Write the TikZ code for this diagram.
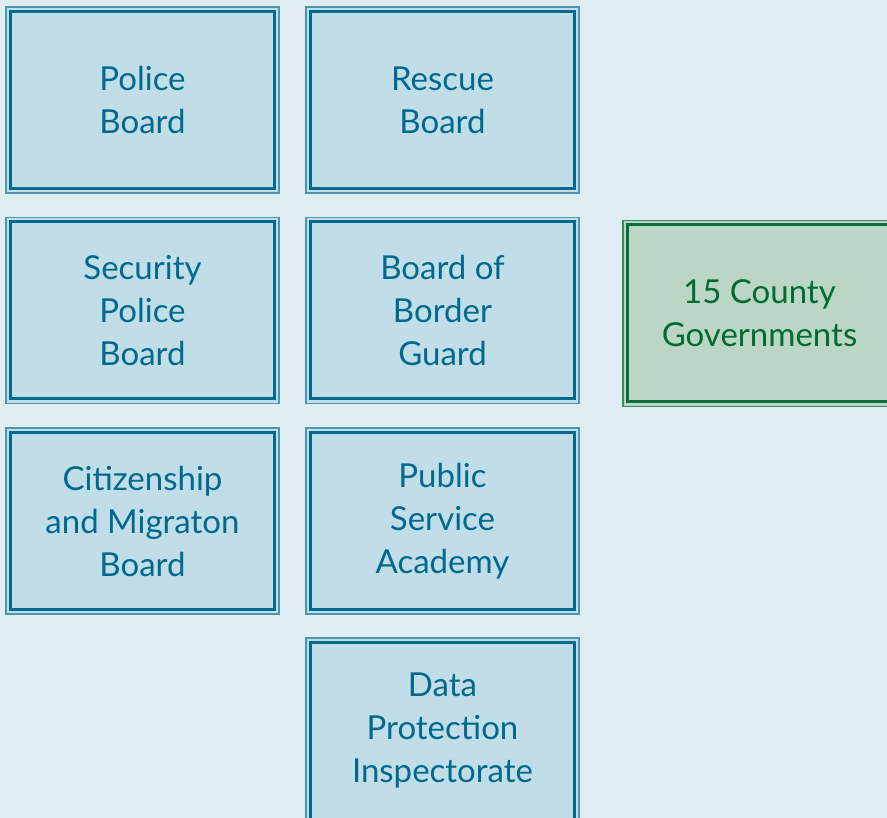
\documentclass[tikz,border=0pt]{standalone}
\usepackage{fontspec}
\setmainfont{Lato}
\definecolor{bgc}{HTML}{E0EDF3}
\definecolor{bfill}{HTML}{C1DDE8}
\definecolor{bline}{HTML}{006A8E}
\definecolor{gfill}{HTML}{BCD6C6}
\definecolor{gline}{HTML}{00703A}
\definecolor{gtext}{HTML}{006B33}
\begin{document}
\begin{tikzpicture}[x=1pt,y=-1pt,
  box/.style={rectangle, minimum width=273pt, minimum height=186pt, inner sep=0pt,
    fill=bfill, draw=bline!70, line width=1.2pt, text=bline, align=center,
    font=\fontsize{33}{43}\selectfont,
    path picture={\draw[bline, line width=3pt]
      ([shift={(4.5pt,-4.5pt)}]path picture bounding box.north west) rectangle
      ([shift={(-4.5pt,4.5pt)}]path picture bounding box.south east);}},
  gbox/.style={box, fill=gfill, draw=gline!80, text=gtext,
    path picture={\draw[gline, line width=3pt]
      ([shift={(4.5pt,-4.5pt)}]path picture bounding box.north west) rectangle
      ([shift={(-4.5pt,4.5pt)}]path picture bounding box.south east);}}]
\fill[bgc] (0,0) rectangle (887,818);
\useasboundingbox (0,0) rectangle (887,818);
\node[box] (police) at (142.5,100) {Police\\Board};
\node[box] (rescue) at (442.5,100) {Rescue\\Board};
\node[box] (security) at (142.5,310.5) {Security\\Police\\Board};
\node[box] (border) at (442.5,310.5) {Board of\\Border\\Guard};
\node[box] (citizen) at (142.5,521) {Citizenship\\and Migraton\\Board};
\node[box] (academy) at (442.5,521) {Public\\Service\\Academy};
\node[box] (data) at (442.5,731) {Data\\Protection\\Inspectorate};
\node[gbox] (county) at (759.5,313.5) {15 County\\Governments};
\end{tikzpicture}
\end{document}
